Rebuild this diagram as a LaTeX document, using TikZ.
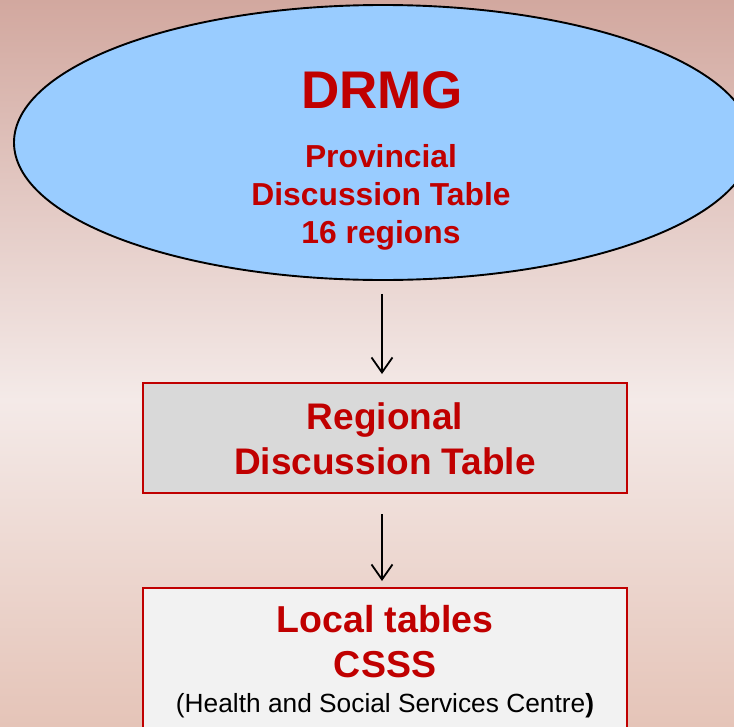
\documentclass[tikz,border=0pt]{standalone}
\usepackage{fontspec}
\setmainfont{Liberation Sans}
\usetikzlibrary{shapes.geometric,arrows.meta}
\definecolor{ttred}{HTML}{C00000}
\definecolor{ellblue}{HTML}{99CCFF}
\definecolor{bgtop}{HTML}{D2A89F}
\definecolor{bgmid}{HTML}{F4EAE8}
\definecolor{bgbot}{HTML}{E5C4B8}
\definecolor{regfill}{HTML}{D9D9D9}
\definecolor{locfill}{HTML}{F2F2F2}
\tikzset{
  boxstyle/.style={draw=ttred, line width=2pt, rectangle, inner sep=0pt},
  redtext/.style={text=ttred, font=\bfseries, inner sep=0pt, anchor=base},
  flow/.style={draw=black, line width=1.8pt, -{Straight Barb[length=15pt,width=21pt,line width=1.8pt]}},
}
\begin{document}
\begin{tikzpicture}[x=1pt,y=-1pt]
\useasboundingbox (0,0) rectangle (734,726);
% background
\shade[top color=bgtop, bottom color=bgmid] (0,0) rectangle (734,400);
\shade[top color=bgmid, bottom color=bgbot] (0,399.5) rectangle (734,726);
% ellipse
\node[ellipse, draw=black, line width=1.9pt, fill=ellblue, minimum width=738pt, minimum height=275pt, inner sep=0pt] (ell) at (383,142.5) {};
\node[redtext, font=\fontsize{53}{53}\selectfont\bfseries] (drmg) at (382,108) {DRMG};
\node[redtext, font=\fontsize{31.8}{31.8}\selectfont\bfseries] (prov) at (381,167) {Provincial};
\node[redtext, font=\fontsize{31.8}{31.8}\selectfont\bfseries] (disc) at (381,205) {Discussion Table};
\node[redtext, font=\fontsize{31.8}{31.8}\selectfont\bfseries] (reg16) at (381,243) {16 regions};
% regional box
\node[boxstyle, fill=regfill, minimum width=484pt, minimum height=110pt] (reg) at (385,438) {};
\node[redtext, font=\fontsize{37}{37}\selectfont\bfseries] (regt1) at (385,429) {Regional};
\node[redtext, font=\fontsize{37}{37}\selectfont\bfseries] (regt2) at (385,474) {Discussion Table};
% local box
\node[boxstyle, fill=locfill, minimum width=484pt, minimum height=180pt] (loc) at (385,678) {};
\node[redtext, font=\fontsize{37.5}{37.5}\selectfont\bfseries] (loct1) at (385,632) {Local tables};
\node[redtext, font=\fontsize{37.5}{37.5}\selectfont\bfseries] (loct2) at (385,677) {CSSS};
\node[anchor=base, inner sep=0pt, text=black, font=\fontsize{26.3}{26.3}\selectfont] (loct3) at (385,712) {(Health and Social Services Centre\textbf{)}};
% connectors
\draw[flow, shorten <=13pt, shorten >=8pt] ([xshift=-1pt]ell.south) -- ([xshift=-3pt]reg.north);
\draw[flow, shorten <=20pt, shorten >=6pt] ([xshift=-3pt]reg.south) -- ([xshift=-3pt]loc.north);
\end{tikzpicture}
\end{document}
